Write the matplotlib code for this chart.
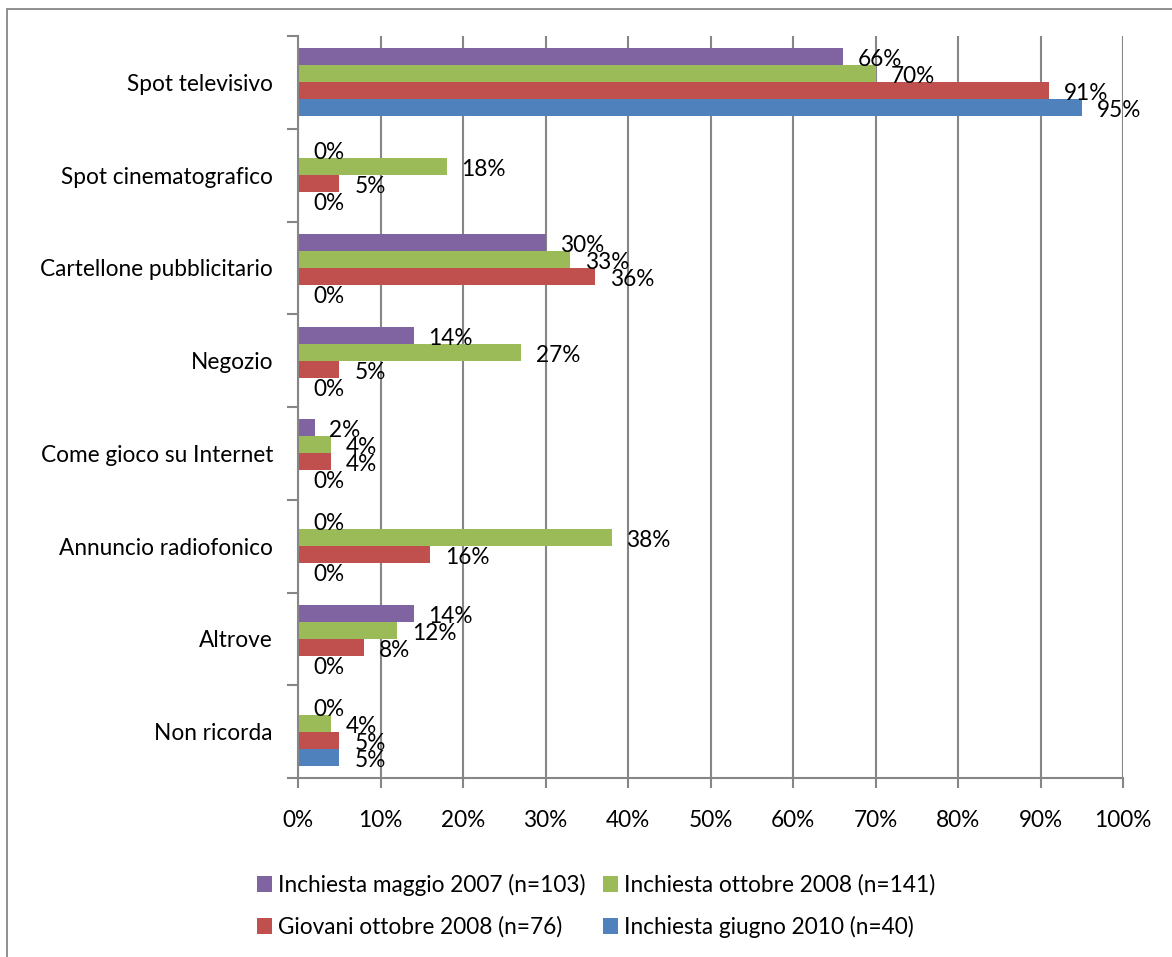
import matplotlib
matplotlib.use("Agg")
import matplotlib.pyplot as plt
from matplotlib.patches import Rectangle, Patch
import numpy as np

plt.rcParams['font.family'] = ['Lato', 'DejaVu Sans']

categories = ["Spot televisivo", "Spot cinematografico", "Cartellone pubblicitario",
              "Negozio", "Come gioco su Internet", "Annuncio radiofonico",
              "Altrove", "Non ricorda"]
series_names = ["Inchiesta maggio 2007 (n=103)", "Inchiesta ottobre 2008 (n=141)",
                "Giovani ottobre 2008 (n=76)", "Inchiesta giugno 2010 (n=40)"]
maggio_2007 = [66, 0, 30, 14, 2, 0, 14, 0]
ottobre_2008 = [70, 18, 33, 27, 4, 38, 12, 4]
giovani_2008 = [91, 5, 36, 5, 4, 16, 8, 5]
giugno_2010 = [95, 0, 0, 0, 0, 0, 0, 5]
x_ticks = [0, 10, 20, 30, 40, 50, 60, 70, 80, 90, 100]

colors = ["#8064A2", "#9BBB59", "#C0504D", "#4F81BD"]
series = [maggio_2007, ottobre_2008, giovani_2008, giugno_2010]

W, H = 1172, 957
fig = plt.figure(figsize=(W / 100, H / 100), dpi=100)
ax = fig.add_axes([298 / W, 1 - 778 / H, (1123 - 298) / W, (778 - 36) / H])

gray = "#868686"
fs = 16.3

n_cat = len(categories)
y = np.arange(n_cat)
h = 0.183
offsets = [-1.5 * h, -0.5 * h, 0.5 * h, 1.5 * h]

for vals, col, off, name in zip(series, colors, offsets, series_names):
    ax.barh(y + off, vals, height=h, color=col, label=name, zorder=3)
    for yy, v in zip(y + off, vals):
        ax.annotate(f"{v}%", xy=(v, yy), xytext=(15, -3), textcoords="offset pixels",
                    ha="left", va="center", fontsize=fs, color="black", zorder=4)

ax.set_xlim(0, 100)
ax.set_ylim(n_cat - 0.5, -0.5)

ax.set_xticks(x_ticks)
ax.set_xticklabels([f"{t}%" for t in x_ticks], fontsize=fs)
ax.tick_params(axis="x", direction="out", length=7, width=1.5, color=gray, pad=16)

ax.set_yticks(np.arange(n_cat + 1) - 0.5)
ax.set_yticklabels([])
ax.set_yticks(y, minor=True)
ax.set_yticklabels(categories, minor=True, fontsize=fs)
ax.tick_params(axis="y", which="major", direction="out", length=8, width=1.5, color=gray)
ax.tick_params(axis="y", which="minor", length=0, pad=18)

ax.grid(axis="x", color=gray, linewidth=1.5, zorder=0)
ax.set_axisbelow(True)
for s in ["top", "right"]:
    ax.spines[s].set_visible(False)
for s in ["left", "bottom"]:
    ax.spines[s].set_color(gray)
    ax.spines[s].set_linewidth(1.5)
    ax.spines[s].set_zorder(5)

# outer frame
fig.patches.append(Rectangle((7 / W, -0.1), 1.2, 0.1 + (H - 9) / H,
                             transform=fig.transFigure, fill=False,
                             edgecolor=gray, linewidth=1.3))

handles = [Patch(facecolor=c, edgecolor="none") for c in colors]
order = [0, 2, 1, 3]
fig.legend([handles[i] for i in order], [series_names[i] for i in order],
           ncol=2, loc="center", bbox_to_anchor=(596 / W, 1 - 906 / H),
           frameon=False, fontsize=fs, handlelength=0.7, handleheight=0.7,
           handletextpad=0.25, columnspacing=0.75, labelspacing=0.9)

fig.savefig("out.png", dpi=100, facecolor="white")
